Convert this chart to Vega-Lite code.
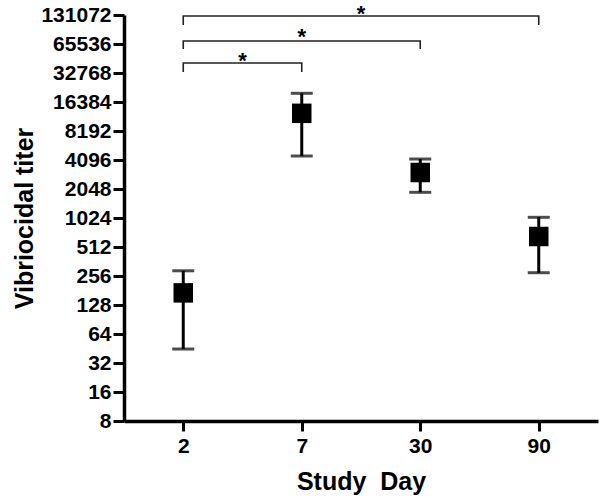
{
  "$schema": "https://vega.github.io/schema/vega-lite/v6.json",
  "width": 474,
  "height": 406,
  "autosize": {"type": "none"},
  "padding": {"left": 124, "top": 15, "right": 2, "bottom": 77},
  "background": "white",
  "config": {
    "view": {"stroke": null},
    "font": "Liberation Sans",
    "axis": {
      "grid": false,
      "domainColor": "black",
      "domainWidth": 3.5,
      "tickColor": "black",
      "tickWidth": 3,
      "labelColor": "black",
      "labelFont": "Liberation Sans",
      "labelFontWeight": "bold",
      "labelFontSize": 21,
      "titleColor": "black",
      "titleFont": "Liberation Sans",
      "titleFontWeight": "bold",
      "titleFontSize": 25
    }
  },
  "datasets": {
    "titers": [
      {"day": "2", "gmt": 171, "lower": 44.7, "upper": 290},
      {"day": "7", "gmt": 12500, "lower": 4507, "upper": 20170},
      {"day": "30", "gmt": 3038, "lower": 1892, "upper": 4193},
      {"day": "90", "gmt": 658, "lower": 277, "upper": 1041}
    ],
    "brackets": [
      {"comparison": "2 vs 7", "day": "2", "y": 33570, "order": 1},
      {"comparison": "2 vs 7", "day": "2", "y": 41620, "order": 2},
      {"comparison": "2 vs 7", "day": "7", "y": 41620, "order": 3},
      {"comparison": "2 vs 7", "day": "7", "y": 33570, "order": 4},
      {"comparison": "2 vs 30", "day": "2", "y": 58200, "order": 1},
      {"comparison": "2 vs 30", "day": "2", "y": 70400, "order": 2},
      {"comparison": "2 vs 30", "day": "30", "y": 70400, "order": 3},
      {"comparison": "2 vs 30", "day": "30", "y": 58200, "order": 4},
      {"comparison": "2 vs 90", "day": "2", "y": 103200, "order": 1},
      {"comparison": "2 vs 90", "day": "2", "y": 128000, "order": 2},
      {"comparison": "2 vs 90", "day": "90", "y": 128000, "order": 3},
      {"comparison": "2 vs 90", "day": "90", "y": 103200, "order": 4}
    ],
    "stars": [
      {"comparison": "2 vs 7", "y": 43530, "label": "*"},
      {"comparison": "2 vs 30", "y": 78000, "label": "*"},
      {"comparison": "2 vs 90", "y": 133700, "label": "*"}
    ]
  },
  "resolve": {"scale": {"x": "independent"}, "axis": {"x": "independent"}},
  "layer": [
    {
      "encoding": {
        "x": {
          "field": "day",
          "type": "ordinal",
          "sort": null,
          "scale": {"type": "point", "domain": ["2", "7", "30", "90"], "padding": 0.5},
          "axis": {
            "title": "Study\u00a0\u00a0Day",
            "labelAngle": 0,
            "tickSize": 10,
            "labelPadding": 4,
            "titlePadding": 13
          }
        }
      },
      "layer": [
        {
          "data": {"name": "titers"},
          "mark": {"type": "rule", "color": "black", "strokeWidth": 3},
          "encoding": {
            "y": {
              "field": "lower",
              "type": "quantitative",
              "scale": {"type": "log", "base": 2, "domain": [8, 131072], "nice": false, "zero": false},
              "axis": {
                "title": "Vibriocidal titer",
                "values": [8, 16, 32, 64, 128, 256, 512, 1024, 2048, 4096, 8192, 16384, 32768, 65536, 131072],
                "format": "d",
                "tickSize": 11,
                "labelPadding": 2,
                "titlePadding": 3
              }
            },
            "y2": {"field": "upper"}
          }
        },
        {
          "data": {"name": "titers"},
          "mark": {"type": "tick", "color": "black", "size": 22, "thickness": 3},
          "encoding": {"y": {"field": "lower", "type": "quantitative"}}
        },
        {
          "data": {"name": "titers"},
          "mark": {"type": "tick", "color": "black", "size": 22, "thickness": 3},
          "encoding": {"y": {"field": "upper", "type": "quantitative"}}
        },
        {
          "data": {"name": "titers"},
          "mark": {"type": "point", "shape": "square", "filled": true, "color": "black", "opacity": 1, "size": 380},
          "encoding": {"y": {"field": "gmt", "type": "quantitative"}}
        },
        {
          "data": {"name": "brackets"},
          "mark": {"type": "line", "color": "#222222", "strokeWidth": 1.6, "interpolate": "linear"},
          "encoding": {
            "y": {"field": "y", "type": "quantitative"},
            "detail": {"field": "comparison"},
            "order": {"field": "order", "type": "quantitative"}
          }
        }
      ]
    },
    {
      "data": {"name": "stars"},
      "mark": {"type": "text", "color": "black", "fontSize": 22, "fontWeight": "bold", "baseline": "middle", "align": "center"},
      "encoding": {
        "x": {
          "field": "comparison",
          "type": "nominal",
          "sort": null,
          "scale": {"type": "point", "domain": ["2 vs 7", "2 vs 30", "2 vs 90"], "padding": 0, "range": [{"expr": "width/4"}, {"expr": "width/2"}]},
          "axis": null
        },
        "y": {"field": "y", "type": "quantitative"},
        "text": {"field": "label"}
      }
    }
  ]
}
